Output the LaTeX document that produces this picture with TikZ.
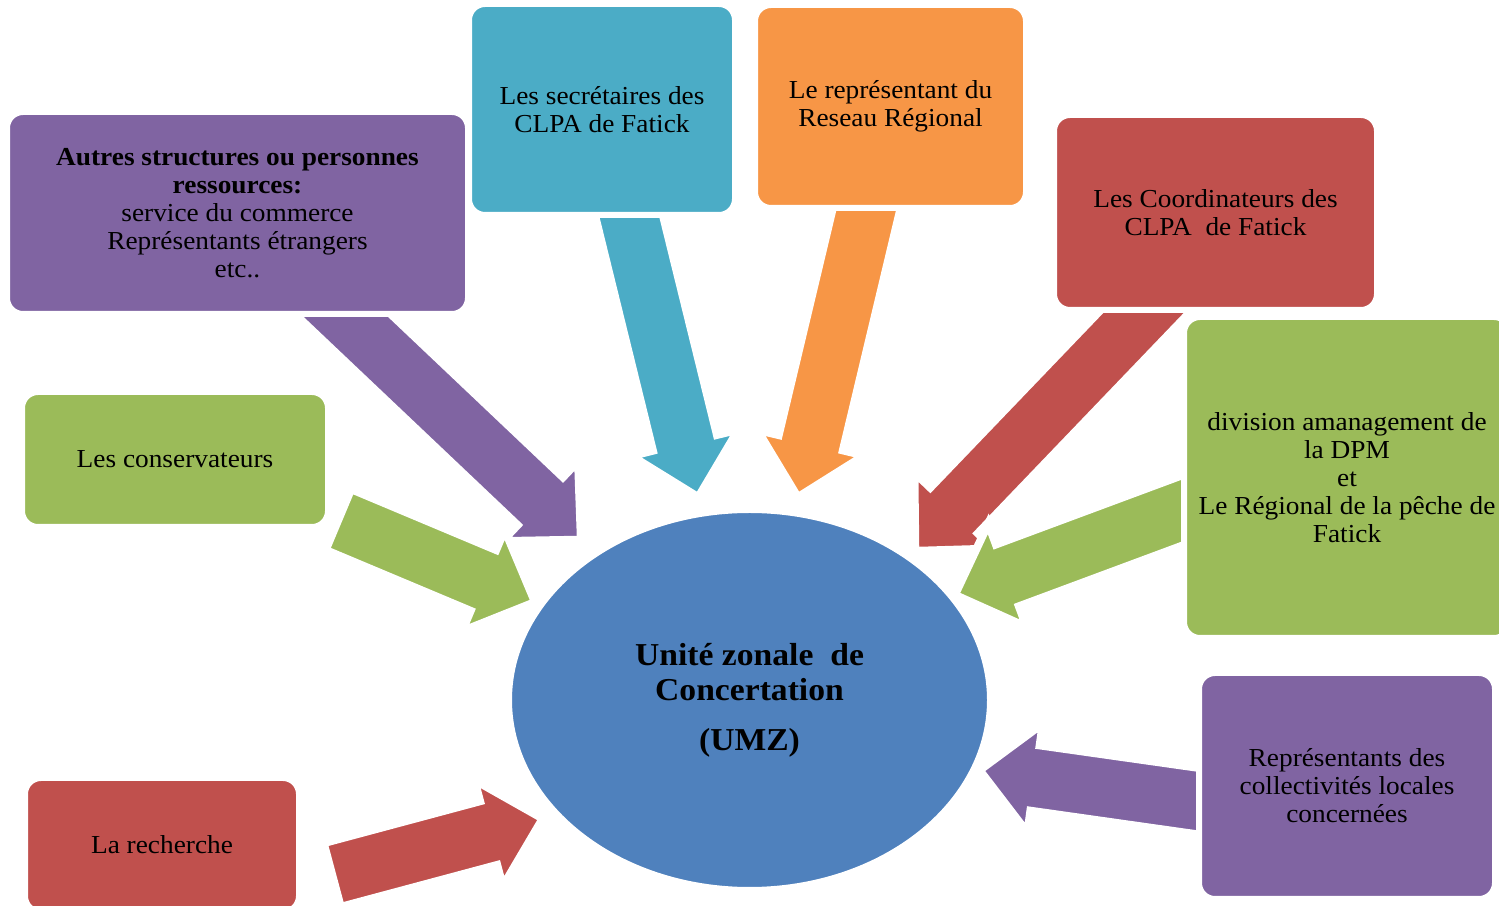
\documentclass[tikz,border=0pt]{standalone}
\usepackage{fontspec}
\setmainfont[FakeStretch=1.055]{Liberation Serif}
\usepackage{tikz}
\usetikzlibrary{calc,shapes}

\definecolor{ofpurple}{HTML}{8064A2}
\definecolor{ofcyan}{HTML}{4BACC6}
\definecolor{oforange}{HTML}{F79646}
\definecolor{ofred}{HTML}{C0504D}
\definecolor{ofgreen}{HTML}{9BBB59}
\definecolor{ofblue}{HTML}{4F81BD}

% block arrow: colour, tail, tip
\newcommand{\fatarrow}[3]{%
  \coordinate (#2-m) at ($(#3)!28bp!(#2)$);
  \filldraw [fill=#1,draw=white,line width=4bp]
    ($(#2)!16.5bp!90:(#3)$) -- ($(#2-m)!16.5bp!90:(#3)$) -- ($(#2-m)!27.5bp!90:(#3)$) -- (#3)
    -- ($(#2-m)!27.5bp!-90:(#3)$) -- ($(#2-m)!16.5bp!-90:(#3)$) -- ($(#2)!16.5bp!-90:(#3)$) -- cycle;
}

\begin{document}
\begin{tikzpicture}[line join=miter,
  box/.style={rectangle,rounded corners=8bp,draw=white,line width=3bp,align=center,
    font=\fontsize{13}{14}\selectfont},
  ]
		\useasboundingbox (0bp,0bp) rectangle (749.5bp,453bp);
		\clip (0bp,0bp) rectangle (749.5bp,453bp);
		%%
		\coordinate (autres-tail) at (154.5bp,312bp);
		\coordinate (autres-tip) at (290.45bp,183.15bp);
		\coordinate (secr-tail) at (310bp,363.5bp);
		\coordinate (secr-tip) at (349.15bp,204.4bp);
		\coordinate (repr-tail) at (437.65bp,366.95bp);
		\coordinate (repr-tip) at (398.9bp,204.4bp);
		\coordinate (coord-tail) at (589.05bp,314.55bp);
		\coordinate (coord-tip) at (457.65bp,177.55bp);
		\coordinate (div-tail) at (610.3bp,204.9bp);
		\coordinate (div-tip) at (477.45bp,155.55bp);
		\coordinate (coll-tail) at (618.3bp,49.7bp);
		\coordinate (coll-tip) at (489.8bp,67.9bp);
		\coordinate (cons-tail) at (169.2bp,193.2bp);
		\coordinate (cons-tip) at (267.5bp,151.95bp);
		\coordinate (rech-tail) at (166.1bp,15.5bp);
		\coordinate (rech-tip) at (271.35bp,43.7bp);
		\fatarrow{ofpurple}{autres-tail}{autres-tip}
		\fatarrow{ofcyan}{secr-tail}{secr-tip}
		\fatarrow{oforange}{repr-tail}{repr-tip}
		\fatarrow{ofred}{coord-tail}{coord-tip}
		\fatarrow{ofgreen}{div-tail}{div-tip}
		\fatarrow{ofpurple}{coll-tail}{coll-tip}
		\fatarrow{ofgreen}{cons-tail}{cons-tip}
		\fatarrow{ofred}{rech-tail}{rech-tip}
		%%
		\node (autres) at (118.75bp,346.5bp) [box,fill=ofpurple,minimum width=230.5bp,minimum height=101bp] {\textbf{Autres structures ou personnes}\\\textbf{ressources:}\\service du commerce\\Représentants étrangers\\etc..};
		\node (secr) at (301bp,398.25bp) [box,fill=ofcyan,minimum width=133bp,minimum height=105.5bp] {Les secrétaires des\\CLPA de Fatick};
		\node (repr) at (445.25bp,399.75bp) [box,fill=oforange,minimum width=135.5bp,minimum height=101.5bp] {Le représentant du\\Reseau Régional};
		\node (coord) at (607.75bp,346.75bp) [box,fill=ofred,minimum width=161.5bp,minimum height=97.5bp] {Les Coordinateurs des\\CLPA\ \ de Fatick};
		\node (div) at (673.5bp,214.25bp) [box,fill=ofgreen,minimum width=163bp,minimum height=160.5bp] {division amanagement de\\la DPM\\et\\Le Régional de la pêche de\\Fatick};
		\node (cons) at (87.5bp,223.25bp) [box,fill=ofgreen,minimum width=153bp,minimum height=67.5bp] {Les conservateurs};
		\node (rech) at (81bp,30.5bp) [box,fill=ofred,minimum width=137bp,minimum height=67bp] {La recherche};
		\node (coll) at (673.5bp,60bp) [box,fill=ofpurple,minimum width=148bp,minimum height=113bp] {Représentants des\\collectivités locales\\concernées};
		\node (umz) at (374.75bp,103bp) [ellipse,fill=ofblue,draw=white,line width=3bp,minimum width=240.5bp,minimum height=190bp,align=center,font=\fontsize{16}{17.5}\selectfont\bfseries] {Unité zonale\ \ de\\Concertation\\[7.5bp](UMZ)};
		%
\end{tikzpicture}
\end{document}
